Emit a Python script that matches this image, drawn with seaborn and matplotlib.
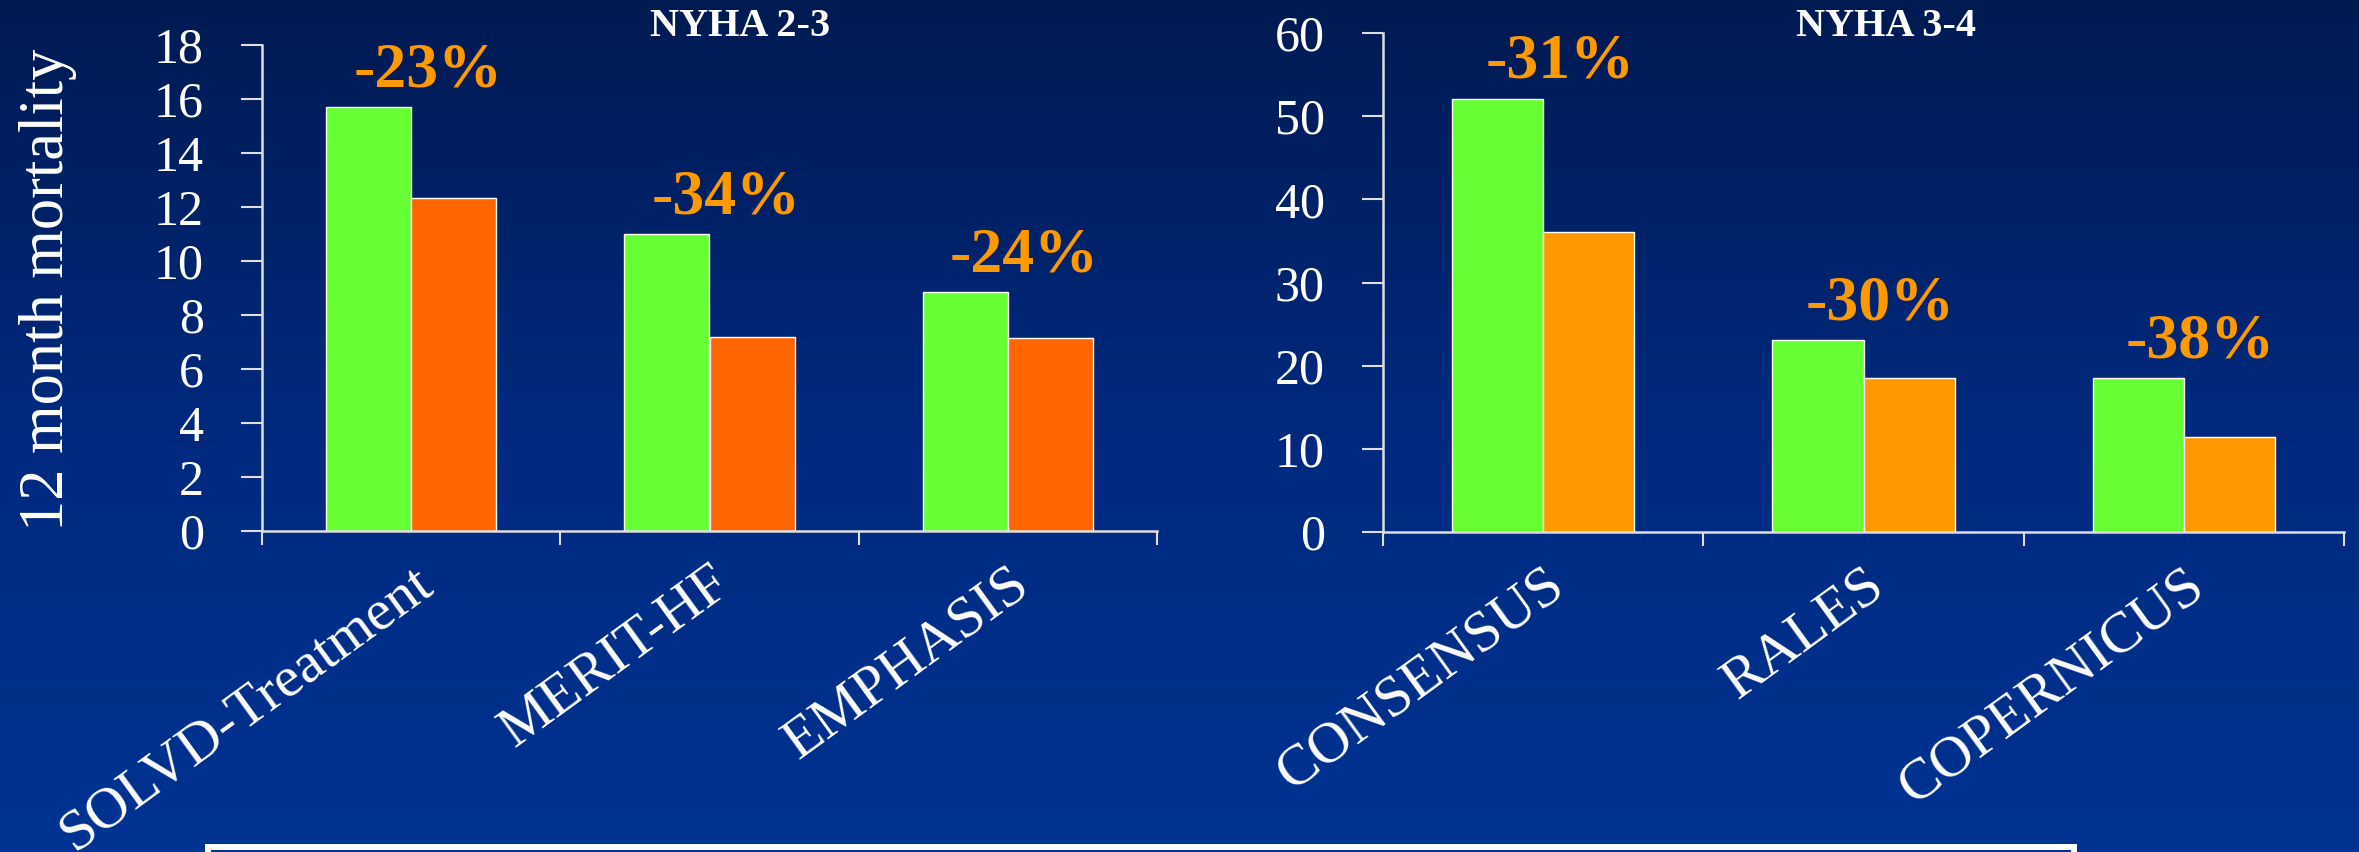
import matplotlib
matplotlib.use("Agg")
import matplotlib.pyplot as plt
from matplotlib.colors import LinearSegmentedColormap
from matplotlib.patches import Rectangle
import numpy as np
import pandas as pd
import seaborn as sns

# values (12 month mortality, %)
arms = ["Placebo", "Treatment"]

trials_23 = ["SOLVD-Treatment", "MERIT-HF", "EMPHASIS"]
control_23 = [15.7, 11.0, 8.85]
treated_23 = [12.35, 7.2, 7.15]
change_23 = ["-23%", "-34%", "-24%"]

trials_34 = ["CONSENSUS", "RALES", "COPERNICUS"]
control_34 = [52.1, 23.1, 18.5]
treated_34 = [36.1, 18.5, 11.4]
change_34 = ["-31%", "-30%", "-38%"]

# colours
green = "#66ff33"
orange_left = "#ff6600"
orange_right = "#ff9900"
label_orange = "#ff9900"
axis_col = "#dedede"

sns.set_style("ticks")
plt.rcParams["font.family"] = ["Liberation Serif", "DejaVu Serif"]

W, H = 2359, 852
fig = plt.figure(figsize=(W / 100, H / 100), dpi=100)

# blue slide background, darker at the top
bg = fig.add_axes([0, 0, 1, 1], zorder=-5)
grad = np.linspace(0, 1, 256).reshape(-1, 1)
cmap = LinearSegmentedColormap.from_list("slide", ["#001a52", "#00297e", "#003393"])
bg.imshow(grad, aspect="auto", cmap=cmap, extent=[0, 1, 0, 1])
bg.axis("off")


def draw_panel(ax, trials, control, treated, changes, orange, ymax, step, title, title_x, title_y):
    df = pd.DataFrame({
        "trial": trials + trials,
        "arm": [arms[0]] * len(trials) + [arms[1]] * len(trials),
        "mortality": control + treated,
    })
    sns.barplot(data=df, x="trial", y="mortality", hue="arm",
                palette=[green, orange], width=0.57, saturation=1,
                errorbar=None, legend=False, ax=ax)
    ax.set_facecolor("none")
    ax.set_xlim(-0.5, len(trials) - 0.5)
    ax.set_ylim(0, ymax)
    ax.set_yticks(np.arange(0, ymax + 1, step))
    ax.set_xlabel("")
    ax.set_ylabel("")

    for s in ["top", "right"]:
        ax.spines[s].set_visible(False)
    for s in ["left", "bottom"]:
        ax.spines[s].set_color(axis_col)
        ax.spines[s].set_linewidth(1.8)

    ax.tick_params(axis="y", length=15, width=1.5, pad=27, color=axis_col,
                   labelcolor="white", labelsize=36)
    ax.set_xticks(np.arange(-0.5, len(trials), 1.0), minor=True)
    ax.tick_params(axis="x", which="minor", length=10, width=1.5, color=axis_col)
    ax.tick_params(axis="x", which="major", length=0, pad=19,
                   labelcolor="white", labelsize=42)
    for lab in ax.get_xticklabels():
        lab.set_rotation(36)
        lab.set_ha("right")
        lab.set_va("top")
        lab.set_rotation_mode("anchor")

    for i, (v, txt) in enumerate(zip(control, changes)):
        ax.annotate(txt, xy=(i, v), xytext=(12, 15), textcoords="offset points",
                    ha="center", va="baseline", color=label_orange,
                    fontsize=46, fontweight="bold")

    ax.text(title_x, title_y, title, transform=ax.transAxes, ha="center",
            va="center", color="white", fontsize=29, fontweight="bold")


ax1 = fig.add_axes([262 / W, 1 - 531 / H, (1157 - 262) / W, (531 - 45) / H])
draw_panel(ax1, trials_23, control_23, treated_23, change_23, orange_left,
           18, 2, "NYHA 2-3", 0.534, 1 + 18 / 486)
ax1.set_ylabel("12 month mortality", color="white", fontsize=45)
ax1.yaxis.label.set_va("center")
ax1.yaxis.set_label_coords(-0.239, 0.496)

ax2 = fig.add_axes([1383 / W, 1 - 532 / H, (2344 - 1383) / W, (532 - 33) / H])
draw_panel(ax2, trials_34, control_34, treated_34, change_34, orange_right,
           60, 10, "NYHA 3-4", 0.523, 1 + 6 / 499)

# white frame peeking in at the bottom edge
fig.add_artist(Rectangle((208 / W, -0.05), (2074 - 208) / W, 0.05 + 5.5 / H,
                         transform=fig.transFigure, fill=False,
                         edgecolor="white", linewidth=4.3))

fig.savefig("out.png", dpi=100)
